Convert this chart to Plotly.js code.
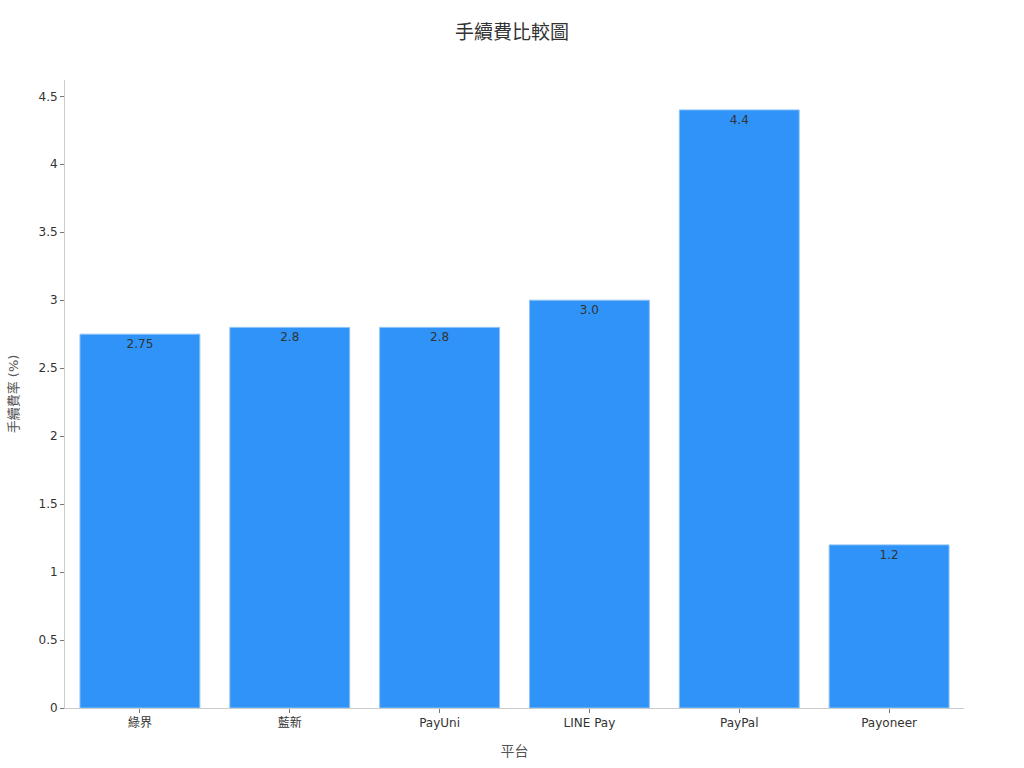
<!DOCTYPE html>
<html>
<head>
<meta charset="utf-8">
<script src="https://cdn.plot.ly/plotly-3.0.1.min.js"></script>
<style>
  html, body { margin: 0; padding: 0; background: #fff; }
  #chart { width: 1024px; height: 768px; }
</style>
</head>
<body>
<div id="chart"></div>
<script>
// platforms and their fee rates (%)
var platforms = ['綠界', '藍新', 'PayUni', 'LINE Pay', 'PayPal', 'Payoneer'];
var feeRates = [2.75, 2.8, 2.8, 3.0, 4.4, 1.2];
var feeLabels = ['2.75', '2.8', '2.8', '3.0', '4.4', '1.2'];

var font = 'DejaVu Sans, "Noto Sans CJK TC", sans-serif';

var trace = {
  type: 'bar',
  x: platforms,
  y: feeRates,
  text: feeLabels,
  textposition: 'inside',
  insidetextanchor: 'end',
  constraintext: 'none',
  textfont: { family: font, size: 12, color: '#333333' },
  marker: {
    color: '#2f93f8',
    line: { color: '#8cc2f5', width: 1 }
  },
  width: 0.8,
  hoverinfo: 'x+y'
};

var layout = {
  width: 1024,
  height: 768,
  margin: { l: 65, r: 60, t: 80, b: 60 },
  paper_bgcolor: '#ffffff',
  plot_bgcolor: '#ffffff',
  font: { family: font, color: '#333333' },
  showlegend: false,
  title: {
    text: '手續費比較圖',
    font: { family: font, size: 19, color: '#333333' },
    x: 0.5,
    xanchor: 'center',
    y: 0.958,
    yanchor: 'middle'
  },
  xaxis: {
    range: [-0.5, 5.5],
    showgrid: false,
    zeroline: false,
    showline: true,
    linecolor: '#cccccc',
    linewidth: 1,
    ticks: 'outside',
    ticklen: 4,
    tickcolor: '#777777',
    tickfont: { family: font, size: 12, color: '#333333' },
    title: { text: '平台', font: { family: font, size: 14, color: '#555555' }, standoff: 16 }
  },
  yaxis: {
    range: [0, 4.62],
    dtick: 0.5,
    tick0: 0,
    showgrid: false,
    zeroline: false,
    showline: true,
    linecolor: '#cccccc',
    linewidth: 1,
    ticks: 'outside',
    ticklen: 4,
    tickcolor: '#777777',
    tickfont: { family: font, size: 12, color: '#333333' },
    title: { text: '手續費率 (%)', font: { family: font, size: 13, color: '#555555' }, standoff: 16 }
  },
  bargap: 0.2
};

Plotly.newPlot('chart', [trace], layout, { displayModeBar: false, staticPlot: true });
</script>
</body>
</html>
